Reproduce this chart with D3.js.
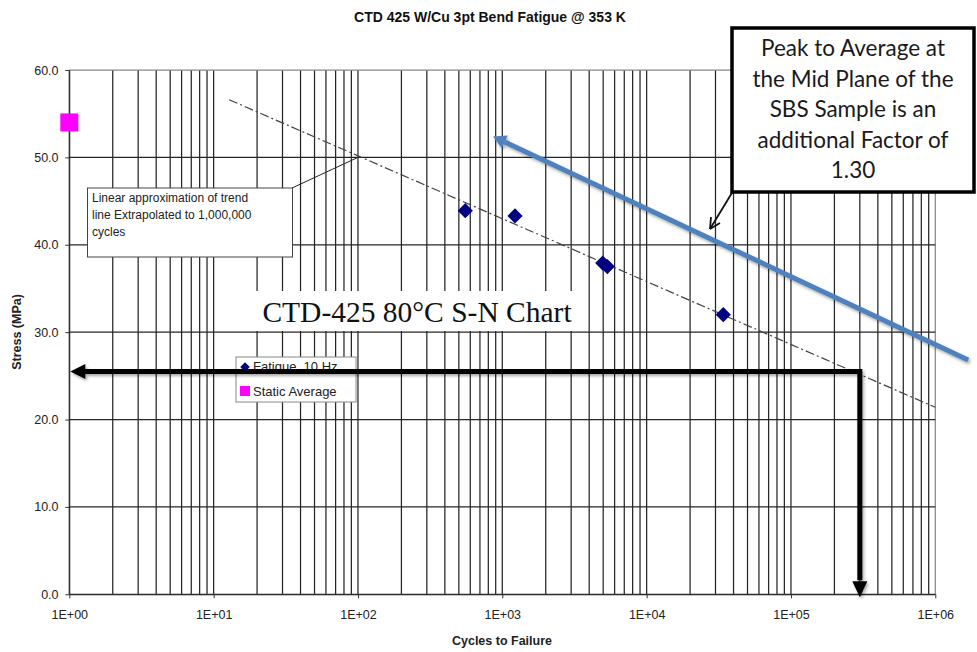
<!DOCTYPE html>
<html><head><meta charset="utf-8">
<script src="https://cdn.jsdelivr.net/npm/d3@7/dist/d3.min.js"></script>
<style>html,body{margin:0;padding:0;background:#fff;}svg{display:block;}</style>
</head><body>
<script>
// ---- data ----
const fatigueCycles = [554, 1225, 4965, 5342, 33970];
const fatigueStress = [43.9, 43.3, 37.9, 37.5, 32.0];
const staticCycles = [1];
const staticStress = [54.0];
const trendCycles = [12.8, 1000000];
const trendStress = [56.6, 21.4];
const peakLineCycles = [862, 1690000];
const peakLineStress = [52.4, 26.8];
const designCycles = 300000;
const designStress = 25.5;
const xTickValues = [1, 10, 100, 1000, 10000, 100000, 1000000];
const xTickLabels = ["1E+00","1E+01","1E+02","1E+03","1E+04","1E+05","1E+06"];
const yTickValues = [0, 10, 20, 30, 40, 50, 60];
const yTickLabels = ["0.0","10.0","20.0","30.0","40.0","50.0","60.0"];
const legendLabels = ["Fatigue, 10 Hz", "Static Average"];
const titleText = "CTD 425 W/Cu 3pt Bend Fatigue @ 353 K";
const xTitle = "Cycles to Failure";
const yTitle = "Stress (MPa)";
const trendNote = ["Linear approximation of trend", "line Extrapolated to 1,000,000", "cycles"];
const calloutLines = ["Peak to Average at", "the Mid Plane of the", "SBS Sample is an", "additional Factor of", "1.30"];
const chartLabel = "CTD-425 80°C S-N Chart";

const W = 977, H = 652;
const L = 69.3, R = 935.3, T = 70, B = 594.3;
const svg = d3.select("body").append("svg").attr("width", W).attr("height", H);
const defs = svg.append("defs");
const f = defs.append("filter").attr("id","sh").attr("x","-20%").attr("y","-20%").attr("width","140%").attr("height","140%");
f.append("feDropShadow").attr("dx",1.5).attr("dy",2).attr("stdDeviation",1.5).attr("flood-color","#000").attr("flood-opacity",0.35);

const x = d3.scaleLog().domain([1, 1e6]).range([L, R]);
const y = d3.scaleLinear().domain([0, 60]).range([B, T]);
const font = "'Liberation Sans', Arial, sans-serif";

// grid
const minor = [];
for (let e = 0; e < 6; e++) for (let m = 1; m <= 10; m++) minor.push(m * Math.pow(10, e));
const uniq = Array.from(new Set(minor));
svg.append("g").selectAll("line").data(uniq).join("line")
  .attr("x1", d => x(d)).attr("x2", d => x(d)).attr("y1", T).attr("y2", B)
  .attr("stroke", d => d === 1e6 ? "#888" : "#262626").attr("stroke-width", 1.25);
svg.append("g").selectAll("line").data(yTickValues).join("line")
  .attr("x1", L).attr("x2", R).attr("y1", d => y(d)).attr("y2", d => y(d))
  .attr("stroke", d => d === 60 ? "#888" : "#262626").attr("stroke-width", 1.25);

// axes
const xAxis = d3.axisBottom(x).tickValues(xTickValues).tickFormat((d,i) => xTickLabels[i]).tickSize(4).tickSizeOuter(0);
const gx = svg.append("g").attr("transform", `translate(0,${B})`).call(xAxis);
gx.select(".domain").attr("stroke", "#333");
gx.selectAll("text").attr("font-family", font).attr("font-size", 12.5).attr("fill", "#222").attr("dy", "1.45em");
gx.selectAll(".tick line").attr("stroke", "#333");
const yAxis = d3.axisLeft(y).tickValues(yTickValues).tickFormat((d,i) => yTickLabels[i]).tickSize(4).tickSizeOuter(0);
const gy = svg.append("g").attr("transform", `translate(${L},0)`).call(yAxis);
gy.select(".domain").attr("stroke", "#333");
gy.selectAll("text").attr("font-family", font).attr("font-size", 12.5).attr("fill", "#222").attr("dx", "-0.3em");
gy.selectAll(".tick line").attr("stroke", "#333");

// titles
svg.append("text").attr("x", 490).attr("y", 22).attr("text-anchor","middle")
  .attr("font-family", font).attr("font-weight","bold").attr("font-size", 14).attr("fill","#111").text(titleText);
svg.append("text").attr("x", 502).attr("y", 645).attr("text-anchor","middle")
  .attr("font-family", font).attr("font-weight","bold").attr("font-size", 12.5).attr("fill","#222").text(xTitle);
svg.append("text").attr("transform", "translate(21,332) rotate(-90)").attr("text-anchor","middle")
  .attr("font-family", font).attr("font-weight","bold").attr("font-size", 12.5).attr("fill","#222").text(yTitle);

// chart label white box
svg.append("rect").attr("x", 250).attr("y", 291).attr("width", 333).attr("height", 40).attr("fill", "#fff");
svg.append("text").attr("x", 417).attr("y", 322).attr("text-anchor","middle")
  .attr("font-family", "'Liberation Serif', 'Times New Roman', serif").attr("font-size", 29.5).attr("fill","#111").text(chartLabel);

// trend line
const trend = trendCycles.map((c,i) => [c, trendStress[i]]);
svg.append("path").datum(trend)
  .attr("d", d3.line().x(d => x(d[0])).y(d => y(d[1])))
  .attr("fill","none").attr("stroke","#444").attr("stroke-width",1.2).attr("stroke-dasharray","9,3,2,3");

// annotation box for trend
svg.append("line").attr("x1", 292).attr("y1", 188).attr("x2", x(100)).attr("y2", y(50))
  .attr("stroke","#222").attr("stroke-width",1);
svg.append("rect").attr("x", 87.5).attr("y", 188).attr("width", 205).attr("height", 69)
  .attr("fill","#fff").attr("stroke","#444").attr("stroke-width",1);
svg.append("g").selectAll("text").data(trendNote).join("text")
  .attr("x", 92).attr("y", (d,i) => 202 + i * 17)
  .attr("font-family", font).attr("font-size", 12).attr("fill","#222").text(d => d);

// fatigue points
const pts = fatigueCycles.map((c,i) => [c, fatigueStress[i]]);
const diamond = d3.symbol(d3.symbolSquare, 115);
svg.append("g").selectAll("path").data(pts).join("path")
  .attr("d", diamond)
  .attr("transform", d => `translate(${x(d[0])},${y(d[1])}) rotate(45)`)
  .attr("fill", "#000080");
// static
svg.append("g").selectAll("rect").data(staticCycles.map((c,i)=>[c, staticStress[i]])).join("rect")
  .attr("x", d => x(d[0]) - 9).attr("y", d => y(d[1]) - 9).attr("width", 18).attr("height", 18)
  .attr("fill", "#ff00ff");

// legend
const lg = svg.append("g");
lg.append("rect").attr("x", 236).attr("y", 357).attr("width", 120).attr("height", 45)
  .attr("fill","#fff").attr("stroke","#888").attr("stroke-width",1);
lg.append("path").attr("d", d3.symbol(d3.symbolSquare, 45)).attr("transform","translate(245,367) rotate(45)").attr("fill","#000080");
lg.append("rect").attr("x", 240).attr("y", 386).attr("width", 10).attr("height", 10).attr("fill","#ff00ff");
lg.selectAll("text").data(legendLabels).join("text")
  .attr("x", 253).attr("y", (d,i) => 371 + i * 24.5)
  .attr("font-family", font).attr("font-size", 13).attr("fill","#222").text(d => d);

// blue peak line with arrow at upper-left end
const pk = peakLineCycles.map((c,i) => [c, peakLineStress[i]]);
const px0 = x(pk[0][0]), py0 = y(pk[0][1]), px1 = x(pk[1][0]), py1 = y(pk[1][1]);
const ang = Math.atan2(py0 - py1, px0 - px1);
const bl = svg.append("g").attr("filter","url(#sh)");
const ah = 13, aw = 7;
const bx = px0 - ah * Math.cos(ang), by = py0 - ah * Math.sin(ang);
bl.append("line").attr("x1", px1).attr("y1", py1).attr("x2", bx).attr("y2", by)
  .attr("stroke","#4f81bd").attr("stroke-width",5);
bl.append("path").attr("d", `M${px0},${py0} L${bx + aw*Math.sin(ang)},${by - aw*Math.cos(ang)} L${bx - aw*Math.sin(ang)},${by + aw*Math.cos(ang)} Z`)
  .attr("fill","#4f81bd");

// black design arrows
const dx = x(designCycles), dy = y(designStress);
const ba = svg.append("g").attr("filter","url(#sh)");
ba.append("path").attr("d", `M${x(1) + 14},${dy} L${dx},${dy} L${dx},${y(0) - 14}`)
  .attr("fill","none").attr("stroke","#000").attr("stroke-width",5).attr("stroke-linejoin","miter");
ba.append("path").attr("d", `M${x(1)+1},${dy} L${x(1)+16},${dy-7.5} L${x(1)+16},${dy+7.5} Z`).attr("fill","#000");
ba.append("path").attr("d", `M${dx},${y(0)+3} L${dx-7.5},${y(0)-13} L${dx+7.5},${y(0)-13} Z`).attr("fill","#000");

// callout box
svg.append("line").attr("x1", 741).attr("y1", 178).attr("x2", 710).attr("y2", 229)
  .attr("stroke","#111").attr("stroke-width",1.8);
svg.append("path").attr("d", "M710,229 L711,217 M710,229 L720,223").attr("stroke","#111").attr("stroke-width",1.8).attr("fill","none");
svg.append("rect").attr("x", 732).attr("y", 28).attr("width", 242).attr("height", 164)
  .attr("fill","#fff").attr("stroke","#000").attr("stroke-width",3.5);
svg.append("g").selectAll("text").data(calloutLines).join("text")
  .attr("x", 853).attr("y", (d,i) => 56 + i * 30.5).attr("text-anchor","middle")
  .attr("font-family", "Lato, 'Open Sans', sans-serif").attr("font-size", 22.5).attr("fill","#1a1a1a").text(d => d);
</script>
</body></html>
